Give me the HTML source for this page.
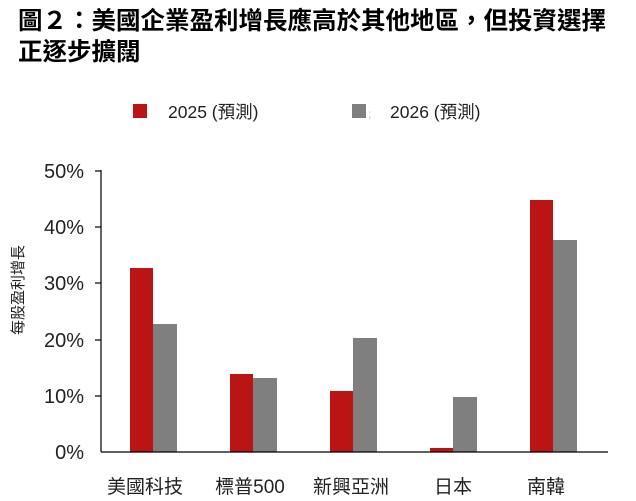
<!DOCTYPE html>
<html><head><meta charset="utf-8"><style>
body{margin:0;background:#fff;width:636px;height:496px;overflow:hidden;font-family:"Liberation Sans","Noto Sans CJK TC",sans-serif;}
</style></head><body>
<svg width="636" height="496" xmlns="http://www.w3.org/2000/svg" font-family="Liberation Sans, Noto Sans CJK TC, sans-serif">
<text x="18" y="29" font-size="24.5" font-weight="bold" fill="#000">圖２：美國企業盈利增長應高於其他地區，但投資選擇</text>
<text x="18" y="60" font-size="24.5" font-weight="bold" fill="#000">正逐步擴闊</text>
<rect x="133" y="104" width="14" height="14" fill="#BA1414"/>
<text x="168" y="118" font-size="17.5" fill="#222">2025 (預測)</text>
<rect x="352" y="104" width="14" height="14" fill="#7F7F7F"/>
<text x="368" y="118" font-size="12" fill="#bbb">;</text>
<text x="390" y="118" font-size="17.5" fill="#222">2026 (預測)</text>
<g font-size="20" fill="#222" text-anchor="end">
<text x="84" y="459">0%</text>
<text x="84" y="403">10%</text>
<text x="84" y="347">20%</text>
<text x="84" y="290">30%</text>
<text x="84" y="234">40%</text>
<text x="84" y="178">50%</text>
</g>
<text transform="translate(23,290) rotate(-90)" font-size="15" fill="#222" text-anchor="middle">每股盈利增長</text>
<line x1="101" y1="170" x2="101" y2="452" stroke="#000" stroke-width="1.2"/>
<g stroke="#000" stroke-width="1.2">
<line x1="95" y1="171" x2="101" y2="171"/><line x1="95" y1="227" x2="101" y2="227"/>
<line x1="95" y1="283" x2="101" y2="283"/><line x1="95" y1="340" x2="101" y2="340"/>
<line x1="95" y1="396" x2="101" y2="396"/>
</g>
<g fill="#BA1414">
<rect x="130" y="268" width="23" height="184"/>
<rect x="230" y="374" width="23" height="78"/>
<rect x="330" y="391" width="23" height="61"/>
<rect x="430" y="448" width="23" height="4"/>
<rect x="530" y="200" width="23" height="252"/>
</g>
<g fill="#7F7F7F">
<rect x="153" y="324" width="24" height="128"/>
<rect x="253" y="378" width="24" height="74"/>
<rect x="353" y="338" width="24" height="114"/>
<rect x="453" y="397" width="24" height="55"/>
<rect x="553" y="240" width="24" height="212"/>
</g>
<line x1="101" y1="452" x2="608" y2="452" stroke="#000" stroke-width="1.2"/>
<g font-size="19" fill="#222" text-anchor="middle">
<text x="145" y="493">美國科技</text>
<text x="250" y="493">標普500</text>
<text x="351" y="493">新興亞洲</text>
<text x="453" y="493">日本</text>
<text x="546" y="493">南韓</text>
</g>
</svg>
</body></html>
